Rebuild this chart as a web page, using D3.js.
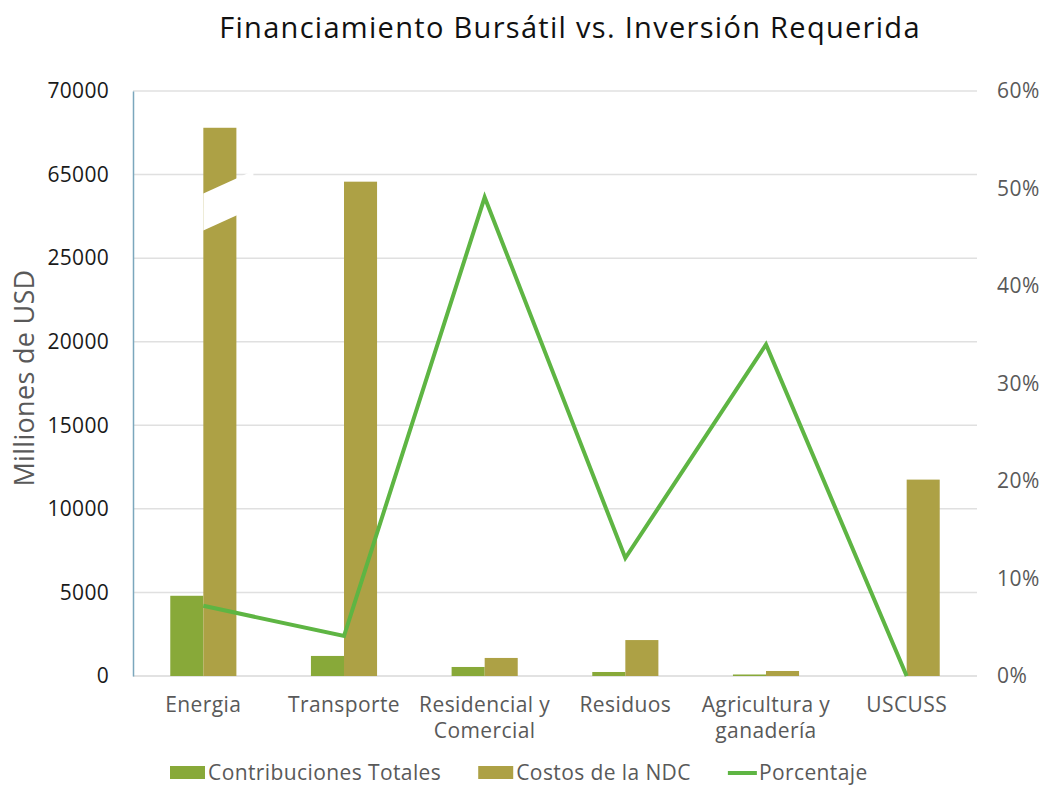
<!DOCTYPE html>
<html>
<head>
<meta charset="utf-8">
<script src="https://cdn.jsdelivr.net/npm/d3@7"></script>
<style>
  body { margin: 0; background: #fff; }
  text { font-family: "Open Sans", Lato, sans-serif; }
</style>
</head>
<body>
<div id="chart"></div>
<script>
// data
var categories = ["Energia", "Transporte", "Residencial y\nComercial", "Residuos", "Agricultura y\nganadería", "USCUSS"];
var contribuciones = [4800, 1200, 540, 240, 90, 0];
var costosNDC = [67800, 61600, 1080, 2150, 300, 11750];
var porcentaje = [0.072, 0.041, 0.491, 0.121, 0.340, 0.0];
var leftTicks = [0, 5000, 10000, 15000, 20000, 25000, 65000, 70000];
var rightTicks = [0, 0.1, 0.2, 0.3, 0.4, 0.5, 0.6];
var seriesNames = ["Contribuciones Totales", "Costos de la NDC", "Porcentaje"];

var colContrib = "#88a939";
var colCostos = "#ada145";
var colLine = "#5eb543";
var fontFam = "'Open Sans', Lato, sans-serif";

var width = 1046, height = 786;
var plotLeft = 133, plotRight = 977, plotTop = 91, plotBottom = 676;

var svg = d3.select("#chart").append("svg")
  .attr("width", width)
  .attr("height", height);

// broken left axis: 0..25000 linear, then one step to 65000, one to 70000
var step = (plotBottom - plotTop) / 7;
var y = d3.scaleLinear()
  .domain([0, 25000, 65000, 70000])
  .range([plotBottom, plotBottom - 5 * step, plotBottom - 6 * step, plotTop]);

var y2 = d3.scaleLinear().domain([0, 0.6]).range([plotBottom, plotTop]);

var x = d3.scaleBand()
  .domain(categories)
  .range([plotLeft, plotRight])
  .paddingInner(0.53)
  .paddingOuter(0.265);

var xSub = d3.scaleBand()
  .domain([0, 1])
  .range([0, x.bandwidth()]);

// gridlines
svg.append("g")
  .selectAll("line")
  .data(leftTicks.slice(1))
  .enter().append("line")
  .attr("x1", plotLeft).attr("x2", plotRight)
  .attr("y1", function(d) { return y(d); })
  .attr("y2", function(d) { return y(d); })
  .attr("stroke", "#e0e0e0")
  .attr("stroke-width", 1.5);

// bottom baseline
svg.append("line")
  .attr("x1", plotLeft).attr("x2", plotRight)
  .attr("y1", plotBottom).attr("y2", plotBottom)
  .attr("stroke", "#d9d9d9")
  .attr("stroke-width", 1.5);

// left axis
var yAxis = d3.axisLeft(y).tickValues(leftTicks).tickSize(0).tickPadding(24)
  .tickFormat(function(d) { return d; });
var gy = svg.append("g")
  .attr("transform", "translate(" + plotLeft + ",0)")
  .call(yAxis);
gy.select(".domain").attr("stroke", "#7ba7bd").attr("stroke-width", 1.5);
gy.selectAll("text").attr("font-size", 21).attr("fill", "#1a1a1a")
  .attr("letter-spacing", 0.3)
  .style("font-family", fontFam);

// right axis
var yAxis2 = d3.axisRight(y2).tickValues(rightTicks).tickSize(0).tickPadding(20)
  .tickFormat(d3.format(".0%"));
var gy2 = svg.append("g")
  .attr("transform", "translate(" + plotRight + ",0)")
  .call(yAxis2);
gy2.select(".domain").remove();
gy2.selectAll("text").attr("font-size", 21).attr("fill", "#595959")
  .attr("letter-spacing", 0.5)
  .style("font-family", fontFam);

// x labels
var xl = svg.append("g").selectAll("text")
  .data(categories)
  .enter().append("text")
  .attr("text-anchor", "middle")
  .attr("font-size", 21)
  .attr("letter-spacing", 0.4)
  .attr("fill", "#595959")
  .attr("x", function(d) { return x(d) + x.bandwidth() / 2; })
  .attr("y", plotBottom + 36);
xl.each(function(d) {
  var t = d3.select(this);
  d.split("\n").forEach(function(line, i) {
    t.append("tspan")
      .attr("x", x(d) + x.bandwidth() / 2)
      .attr("dy", i === 0 ? 0 : 26)
      .text(line);
  });
});

// bars
var bars = svg.append("g");
bars.selectAll("rect.c")
  .data(contribuciones)
  .enter().append("rect")
  .attr("class", "c")
  .attr("x", function(d, i) { return x(categories[i]) + xSub(0); })
  .attr("width", xSub.bandwidth())
  .attr("y", function(d) { return y(d); })
  .attr("height", function(d) { return plotBottom - y(d); })
  .attr("fill", colContrib);

bars.selectAll("rect.k")
  .data(costosNDC)
  .enter().append("rect")
  .attr("class", "k")
  .attr("x", function(d, i) { return x(categories[i]) + xSub(1); })
  .attr("width", xSub.bandwidth())
  .attr("y", function(d) { return y(d); })
  .attr("height", function(d) { return plotBottom - y(d); })
  .attr("fill", colCostos);

// axis break across the tallest bar
var bx0 = x(categories[0]) + xSub(1);
var bx1 = bx0 + xSub.bandwidth() + 17;
var slope = 15 / xSub.bandwidth();
var yb = y(65000) + 19;
var gap = 37;
svg.append("polygon")
  .attr("points", [
    [bx0, yb], [bx1, yb - slope * (bx1 - bx0)],
    [bx1, yb - slope * (bx1 - bx0) + gap], [bx0, yb + gap]
  ].map(function(p) { return p.join(","); }).join(" "))
  .attr("fill", "#fff");

// percentage line
var line = d3.line()
  .x(function(d, i) { return x(categories[i]) + x.bandwidth() / 2; })
  .y(function(d) { return y2(d); });
svg.append("path")
  .datum(porcentaje)
  .attr("d", line)
  .attr("fill", "none")
  .attr("stroke", colLine)
  .attr("stroke-width", 4);

// title
svg.append("text")
  .attr("x", 570).attr("y", 38)
  .attr("text-anchor", "middle")
  .attr("font-size", 29)
  .attr("letter-spacing", 1.3)
  .attr("fill", "#111")
  .text("Financiamiento Bursátil vs. Inversión Requerida");

// y label
svg.append("text")
  .attr("transform", "translate(34," + 378 + ") rotate(-90)")
  .attr("text-anchor", "middle")
  .attr("font-size", 27)
  .attr("letter-spacing", 0.3)
  .attr("fill", "#595959")
  .text("Milliones de USD");

// legend
var legY = 773;
var legend = svg.append("g");
var lx = 170;
seriesNames.forEach(function(name, i) {
  if (i < 2) {
    legend.append("rect")
      .attr("x", lx).attr("y", legY - 7)
      .attr("width", 35).attr("height", 13)
      .attr("fill", i === 0 ? colContrib : colCostos);
  } else {
    legend.append("line")
      .attr("x1", lx).attr("x2", lx + 29)
      .attr("y1", legY).attr("y2", legY)
      .attr("stroke", colLine).attr("stroke-width", 4);
  }
  var t = legend.append("text")
    .attr("x", lx + (i < 2 ? 38 : 31)).attr("y", legY + 7)
    .attr("font-size", 21)
    .attr("letter-spacing", 0.4)
    .attr("fill", "#595959")
    .text(name);
  lx += (i < 2 ? 38 : 31) + t.node().getComputedTextLength() + 37;
});
</script>
</body>
</html>
